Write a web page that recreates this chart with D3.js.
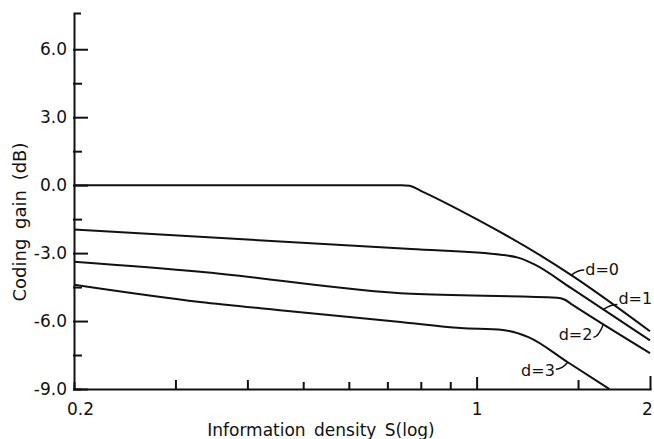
<!DOCTYPE html>
<style>
body { margin: 0; background: #fff; }
svg { font-family: "DejaVu Sans", sans-serif; }
.curve { fill: none; stroke: #111; stroke-width: 2; stroke-linejoin: round; }
.axis path, .axis line { stroke: #111; stroke-width: 2; stroke-linecap: square; }
.axis text { fill: #111; font-size: 17px; font-family: "DejaVu Sans", sans-serif; }
.lab { fill: #111; font-size: 16px; }
.leader { fill: none; stroke: #111; stroke-width: 1.5; }
</style>
<svg width="654" height="439"></svg>
<script src="https://cdn.jsdelivr.net/npm/d3@7"></script>
<script>

// information density S (log axis) and coding gain (dB) for each curve
var sD0 = [0.2, 0.45, 0.74, 0.765, 0.80, 1.0, 1.29, 1.46, 2.0];
var gD0 = [0.0, 0.0, 0.0, -0.03, -0.25, -1.5, -3.1, -3.97, -6.45];

var sD1 = [0.2, 0.77, 1.11, 1.18, 1.26, 1.46, 2.0];
var gD1 = [-1.96, -2.82, -3.08, -3.2, -3.5, -4.55, -6.85];

var sD2 = [0.2, 0.331, 0.77, 1.38, 1.42, 1.47, 2.0];
var gD2 = [-3.38, -3.82, -4.8, -4.97, -5.05, -5.3, -7.42];

var sD3 = [0.2, 0.331, 0.451, 0.738, 0.938, 1.11, 1.23, 1.44, 1.70];
var gD3 = [-4.4, -5.16, -5.51, -6.04, -6.31, -6.4, -6.71, -7.82, -9.0];

var curveNames = ["d=0", "d=1", "d=2", "d=3"];
var labelAtS = [1.46, 1.66, 1.66, 1.44];   // where the leader meets the curve

var yMajor = [6, 3, 0, -3, -6, -9];
var yMinor = [4.5, 1.5, -1.5, -4.5, -7.5];
var xTicks = [0.2, 0.3, 0.4, 0.5, 0.6, 0.7, 0.8, 0.9, 1, 1.5, 2];
var xLabels = [0.2, 1, 2];

var svg = d3.select("svg");

var x = d3.scaleLog().domain([0.2, 2]).range([74, 650]);
var y = d3.scaleLinear().domain([-9, 7.6]).range([389, 13]);

// y axis, ticks pointing inward
svg.append("g")
    .attr("class", "axis")
    .attr("transform", "translate(74,0)")
    .call(d3.axisLeft(y).tickValues(yMajor).tickSize(-13).tickSizeOuter(-6)
        .tickPadding(7).tickFormat(function(d) { return d.toFixed(1); }));

svg.append("g")
    .attr("class", "axis")
    .attr("transform", "translate(74,0)")
    .call(d3.axisLeft(y).tickValues(yMinor).tickSize(-7).tickFormat(""))
    .select(".domain").remove();

// x axis
var tickLen = function(d) {
  if (d == 1) return 11;
  if (d == 2) return 12;
  if (d == 0.3 || d == 0.4 || d == 1.5) return 8;
  return 6;
};

var xg = svg.append("g")
    .attr("class", "axis")
    .attr("transform", "translate(0,389)")
    .call(d3.axisBottom(x).tickValues(xTicks).tickSizeOuter(0).tickPadding(8)
        .tickFormat(function(d) { return xLabels.indexOf(d) >= 0 ? String(d) : ""; }));

xg.selectAll(".tick line").attr("y2", function(d) { return -tickLen(d); });
xg.selectAll(".tick text").filter(function(d) { return d == 0.2; }).attr("dx", 6);
xg.selectAll(".tick text").filter(function(d) { return d == 2; }).attr("dx", -3);

// axis titles
svg.append("text")
    .attr("transform", "translate(26,222) rotate(-90)")
    .attr("text-anchor", "middle")
    .attr("fill", "#111")
    .attr("font-size", 18)
    .attr("word-spacing", 4)
    .text("Coding gain (dB)");

svg.append("text")
    .attr("x", 321)
    .attr("y", 436)
    .attr("text-anchor", "middle")
    .attr("fill", "#111")
    .attr("font-size", 17)
    .attr("word-spacing", 3)
    .text("Information density S(log)");

// curves
var series = [[sD0, gD0], [sD1, gD1], [sD2, gD2], [sD3, gD3]];

var line = d3.line()
    .x(function(d) { return x(d[0]); })
    .y(function(d) { return y(d[1]); })
    .curve(d3.curveMonotoneX);

series.forEach(function(s) {
  var pts = s[0].map(function(v, i) { return [v, s[1][i]]; });
  svg.append("path").attr("class", "curve").attr("d", line(pts));
});

// gain on a curve at a given S (linear in log S)
function gainAt(s, S) {
  var xs = s[0], gs = s[1];
  for (var i = 1; i < xs.length; i++) {
    if (S <= xs[i]) {
      var t = (Math.log(S) - Math.log(xs[i-1])) / (Math.log(xs[i]) - Math.log(xs[i-1]));
      return gs[i-1] + t * (gs[i] - gs[i-1]);
    }
  }
  return gs[gs.length - 1];
}

// curve labels with little leader strokes
var leaderOff = [[13, -5], [14, -5], [-10, 13], [-12, 7]];
var textOff = [[1, 5, "start"], [1, 0, "start"], [-1, 3, "end"], [-1, 7, "end"]];

curveNames.forEach(function(name, i) {
  var px = x(labelAtS[i]), py = y(gainAt(series[i], labelAtS[i]));
  var ex = px + leaderOff[i][0], ey = py + leaderOff[i][1];
  svg.append("path")
      .attr("class", "leader")
      .attr("d", "M" + px + "," + py + "Q" + (px + ex) / 2 + "," + (ey) + " " + ex + "," + ey);
  svg.append("text")
      .attr("class", "lab")
      .attr("x", ex + textOff[i][0])
      .attr("y", ey + textOff[i][1])
      .attr("text-anchor", textOff[i][2])
      .text(name);
});

</script>
